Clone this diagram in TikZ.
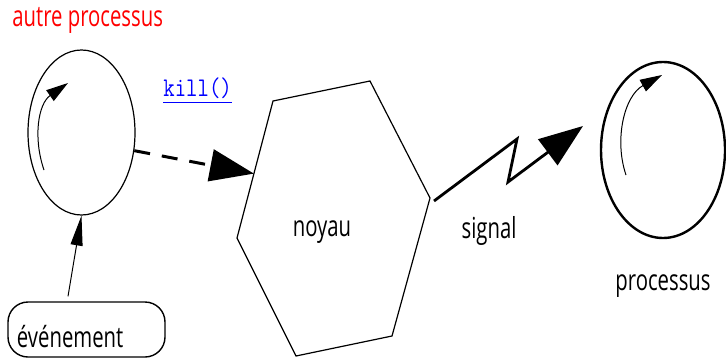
\documentclass[tikz,border=0pt]{standalone}
\usepackage{fontspec}
\setmainfont[FakeStretch=0.7]{Open Sans}
\setmonofont[FakeStretch=0.82]{Latin Modern Mono}
\usetikzlibrary{arrows.meta,shapes.geometric,calc}

\definecolor{killblue}{RGB}{0,0,255}
\definecolor{autrered}{RGB}{255,0,0}

\tikzset{
  txt/.style={inner sep=0pt, font=\fontsize{14.5}{17}\selectfont},
  proc/.style={ellipse, draw, minimum width=#1},
  cycle arrow/.style={line width=0.5pt, -{Triangle[length=11pt,width=6.5pt]}},
  big tip/.style={-{Triangle[length=22pt,width=16pt]}},
}

\begin{document}
\begin{tikzpicture}[x=0.5pt,y=-0.5pt]
  \useasboundingbox (0,0) rectangle (726,358);

  % processus
  \node[proc=53.5pt, line width=0.6pt, minimum height=82.5pt] (autre) at (81.5,132.5) {};
  \node[proc=62pt, line width=1.2pt, minimum height=88pt] (cible) at (663,150) {};
  \node[txt, text=autrered, anchor=base west] (autrelbl) at (12,27) {autre processus};
  \node[txt, anchor=base] (ciblelbl) at (663,290) {processus};
  \draw[cycle arrow] (44,170) .. controls (33,138) and (38,104) .. (68,83);
  \draw[cycle arrow] (626,175) .. controls (614,140) and (624,96) .. (662,75);

  % noyau
  \coordinate (h1) at (273,101);
  \coordinate (h2) at (370,81);
  \coordinate (h3) at (430,198);
  \coordinate (h4) at (392,336);
  \coordinate (h5) at (296,356);
  \coordinate (h6) at (237,238);
  \draw[line width=0.6pt] (h1) -- (h2) -- (h3) -- (h4) -- (h5) -- (h6) -- cycle;
  \node[txt, anchor=base] (noyau) at (322,236) {noyau};

  % evenement
  \node[txt, draw, line width=0.7pt, rounded corners=10pt, minimum height=27.5pt,
        inner xsep=4.5pt, text width=69.5pt, align=left,
        text height=18pt, text depth=0.5pt] (evenement) at (86.5,329.5) {événement};
  \draw[line width=0.5pt, -{Triangle[length=15pt,width=6pt]}]
    ([xshift=-9.25pt,yshift=2.5pt]evenement.north) -- (autre.south);

  % kill()
  \node[inner sep=0pt, text=killblue, anchor=base west, font=\fontsize{13.5}{15}\ttfamily] (kill) at (163,97) {\underline{kill()}};
  \draw[line width=1.5pt, dash pattern=on 8pt off 6pt, big tip]
    (autre.-19) -- ($(h1)!0.53!(h6)$);

  % signal
  \coordinate (z1) at (517,139);
  \coordinate (z2) at (508,182);
  \coordinate (sigtip) at (583,126);
  \draw[line width=1.4pt, big tip] ([xshift=2pt,yshift=-1.5pt]h3) -- (z1) -- (z2) -- (sigtip);
  \node[txt, anchor=base] (signal) at (489,238) {signal};
\end{tikzpicture}
\end{document}
